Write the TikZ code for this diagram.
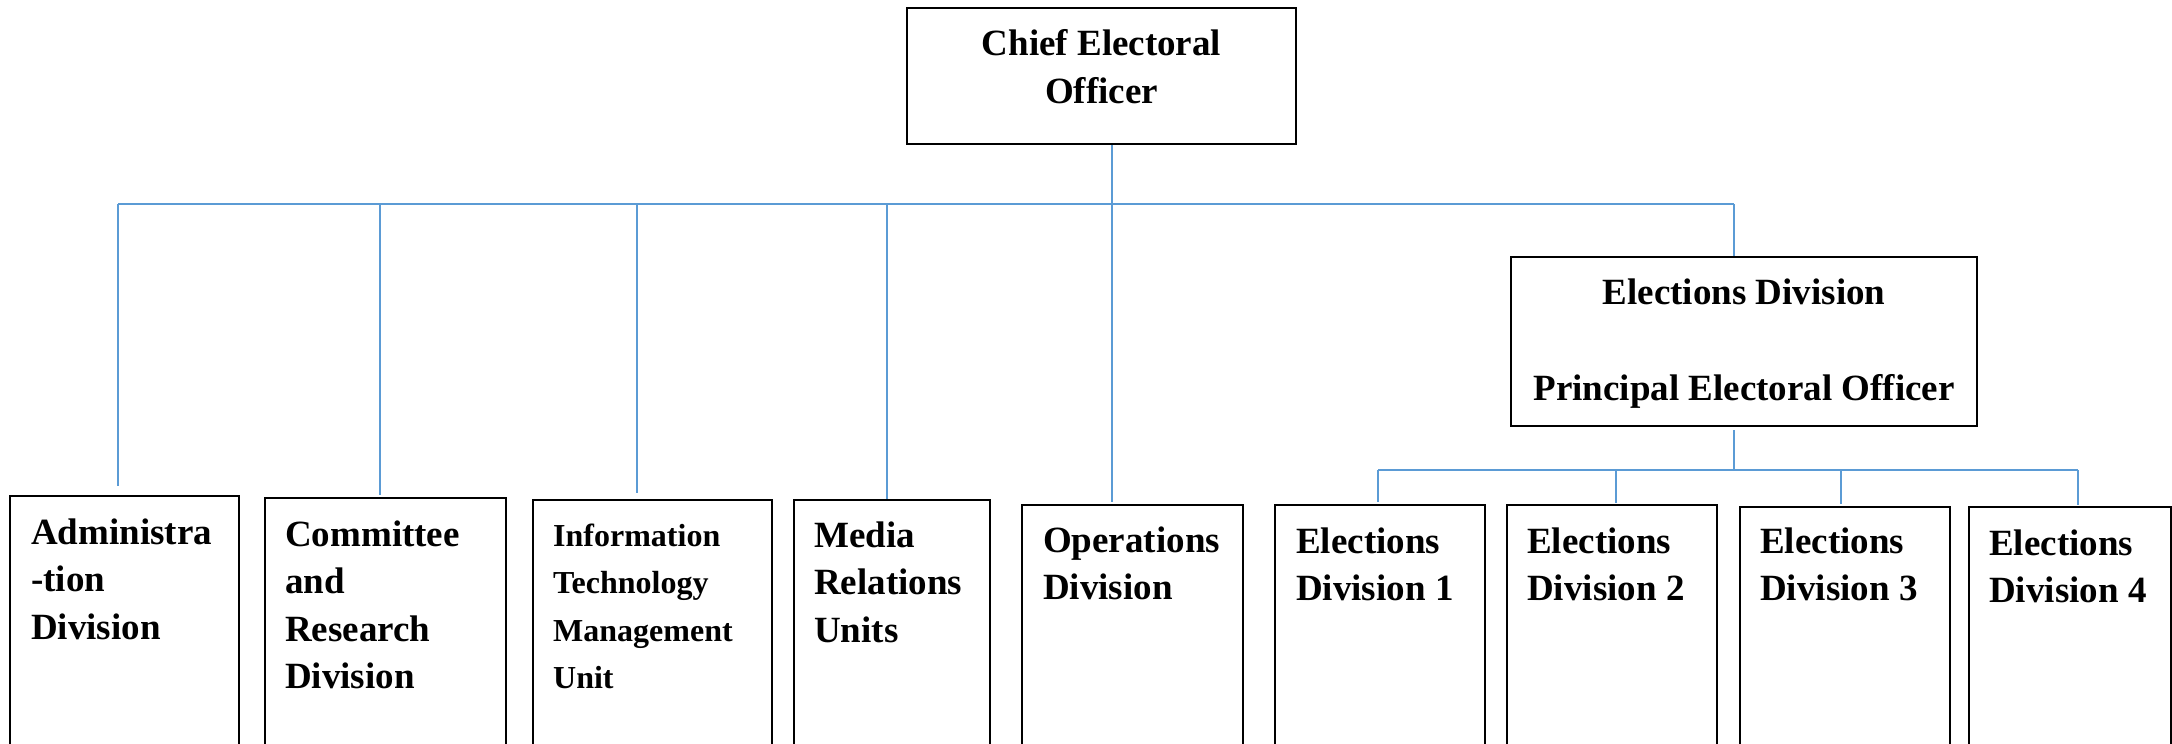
\documentclass[tikz,border=0pt]{standalone}
\usepackage{fontspec}
\setmainfont{Liberation Serif}
\usetikzlibrary{calc}
\definecolor{linkblue}{RGB}{91,155,213}

% left-aligned multi-line label whose base anchor sits on the first baseline
\newcommand{\leftlines}[2]{\parbox[t]{300pt}{\raggedright\fontsize{#1}{47.5}\selectfont #2}}
\newcommand{\centerlines}[1]{\parbox[t]{460pt}{\centering\fontsize{37}{48}\selectfont #1}}

\begin{document}
\begin{tikzpicture}[x=1pt,y=-1pt,
  orgbox/.style={draw=black,line width=2pt,anchor=north west,inner sep=0pt},
  boxtext/.style={anchor=base west,inner sep=0pt,font=\bfseries},
  headtext/.style={anchor=base,inner sep=0pt,font=\bfseries},
  conn/.style={draw=linkblue,line width=1.3pt}]
\useasboundingbox (0,0) rectangle (2172,744);
\clip (0,0) rectangle (2172,744);

% top level
\node[orgbox,minimum width=389pt,minimum height=136pt] (chief) at (906,7) {};
\node[headtext] (chieftxt) at ($(chief.north)+(0,48)$) {\centerlines{Chief Electoral\\Officer}};

\node[orgbox,minimum width=466pt,minimum height=169pt] (eldiv) at (1510,256) {};
\node[headtext] (eldivtxt) at ($(eldiv.north)+(0,48)$) {\centerlines{Elections Division\\[48pt]Principal Electoral Officer}};

% divisions and units
\node[orgbox,minimum width=229pt,minimum height=265pt] (adm) at (9,495) {};
\node[orgbox,minimum width=241pt,minimum height=263pt] (crd) at (264,497) {};
\node[orgbox,minimum width=239pt,minimum height=261pt] (itm) at (532,499) {};
\node[orgbox,minimum width=196pt,minimum height=261pt] (med) at (793,499) {};
\node[orgbox,minimum width=221pt,minimum height=256pt] (ops) at (1021,504) {};
\node[orgbox,minimum width=210pt,minimum height=256pt] (ed1) at (1274,504) {};
\node[orgbox,minimum width=210pt,minimum height=256pt] (ed2) at (1506,504) {};
\node[orgbox,minimum width=210pt,minimum height=254pt] (ed3) at (1739,506) {};
\node[orgbox,minimum width=202pt,minimum height=254pt] (ed4) at (1968,506) {};

\node[boxtext] (admtxt) at ($(adm.north west)+(22,49)$) {\leftlines{37}{Administra\\-tion\\Division}};
\node[boxtext] (crdtxt) at ($(crd.north west)+(21,49)$) {\leftlines{37}{Committee\\and\\Research\\Division}};
\node[boxtext] (itmtxt) at ($(itm.north west)+(21,47)$) {\leftlines{32}{Information\\Technology\\Management\\Unit}};
\node[boxtext] (medtxt) at ($(med.north west)+(21,48)$) {\leftlines{37}{Media\\Relations\\Units}};
\node[boxtext] (opstxt) at ($(ops.north west)+(22,48)$) {\leftlines{37}{Operations\\Division}};
\node[boxtext] (ed1txt) at ($(ed1.north west)+(22,49)$) {\leftlines{37}{Elections\\Division 1}};
\node[boxtext] (ed2txt) at ($(ed2.north west)+(21,49)$) {\leftlines{37}{Elections\\Division 2}};
\node[boxtext] (ed3txt) at ($(ed3.north west)+(21,47)$) {\leftlines{37}{Elections\\Division 3}};
\node[boxtext] (ed4txt) at ($(ed4.north west)+(21,49)$) {\leftlines{37}{Elections\\Division 4}};

% main bus
\coordinate (busL) at (118,204);
\coordinate (busR) at (1734,204);
\coordinate (trunk) at (1112,204);
\coordinate (dcrd) at (380,204);
\coordinate (ditm) at (637,204);
\coordinate (dmed) at (887,204);

\draw[conn] (busL) -- (busR);
\draw[conn,shorten >=2pt] (trunk |- chief.south) -- (trunk |- ops.north);
\draw[conn,shorten >=9pt] (busL) -- (busL |- adm.north);
\draw[conn,shorten >=2pt] (dcrd) -- (dcrd |- crd.north);
\draw[conn,shorten >=6pt] (ditm) -- (ditm |- itm.north);
\draw[conn] (dmed) -- (dmed |- med.north);
\draw[conn] (busR) -- (busR |- eldiv.north);

% elections sub-bus
\coordinate (sub) at (1734,470);
\coordinate (sb1) at (1378,470);
\coordinate (sb2) at (1616,470);
\coordinate (sb3) at (1841,470);
\coordinate (sb4) at (2078,470);

\draw[conn,shorten <=3pt] (sub |- eldiv.south) -- (sub);
\draw[conn] (sb1) -- (sb4);
\draw[conn,shorten >=2pt] (sb1) -- (sb1 |- ed1.north);
\draw[conn,shorten >=1pt] (sb2) -- (sb2 |- ed2.north);
\draw[conn,shorten >=2pt] (sb3) -- (sb3 |- ed3.north);
\draw[conn,shorten >=1pt] (sb4) -- (sb4 |- ed4.north);
\end{tikzpicture}
\end{document}
